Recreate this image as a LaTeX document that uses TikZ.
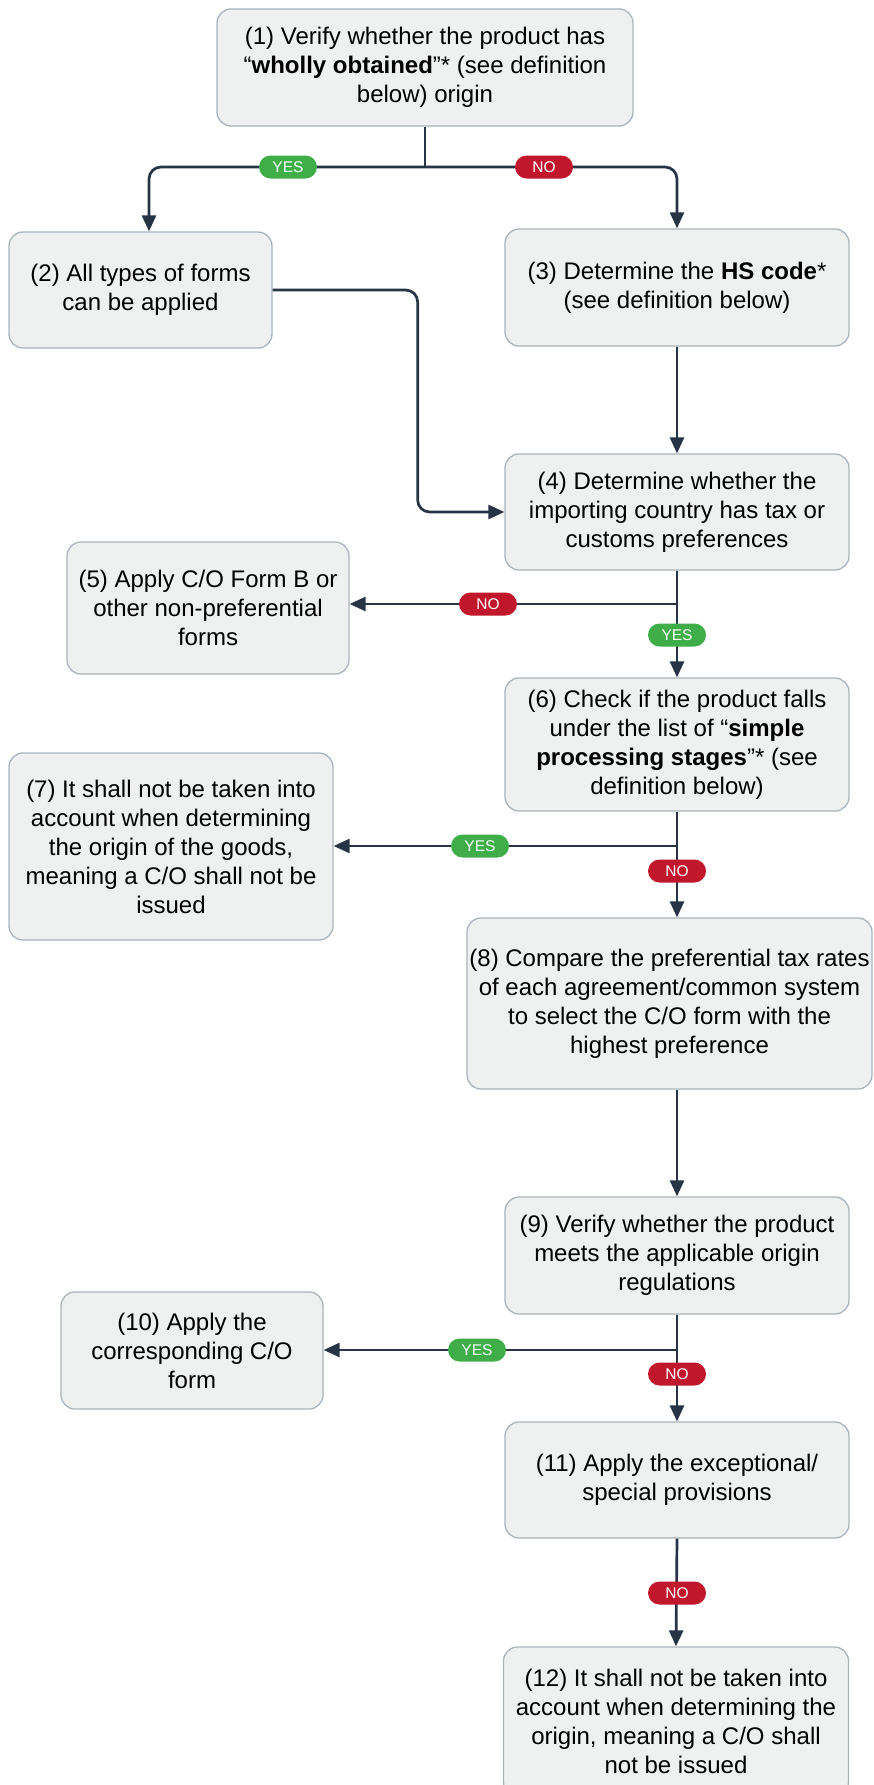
\documentclass[tikz,border=0pt]{standalone}
\usepackage{fontspec}
\setmainfont{Liberation Sans}
\usetikzlibrary{arrows.meta,calc}
\definecolor{boxfill}{HTML}{EFF1F0}
\definecolor{boxline}{HTML}{A9B4BD}
\definecolor{connc}{HTML}{263445}
\definecolor{yesgreen}{HTML}{3FAE49}
\definecolor{nored}{HTML}{C1172C}
\begin{document}
\begin{tikzpicture}[x=1pt,y=-1pt,
  stepbox/.style={draw=boxline, fill=boxfill, line width=1.3pt, rounded corners=14pt,
    align=center, inner sep=0pt, font=\fontsize{24}{29}\selectfont},
  line/.style={draw=connc, line width=2.7pt},
  arr/.style={line, -{Triangle[length=16pt,width=14pt]}},
  pill/.style={text=white, rounded corners=11.5pt, minimum width=58pt, minimum height=23pt,
    inner sep=0pt, font=\fontsize{15.5}{15.5}\selectfont},
  yes/.style={pill, fill=yesgreen},
  no/.style={pill, fill=nored}]
\clip (0,0) rectangle (873,1785);
\fill[white] (0,0) rectangle (873,1785);

\node[stepbox, minimum width=416pt, minimum height=117pt] (b1) at (425,67.5)
  {(1) Verify whether the product has\\“\textbf{wholly obtained}”* (see definition\\below) origin};
\node[stepbox, minimum width=263pt, minimum height=116pt] (b2) at (140.5,290)
  {(2) All types of forms\\can be applied};
\node[stepbox, minimum width=344pt, minimum height=117pt] (b3) at (677,287.5)
  {(3) Determine the \textbf{HS code}*\\(see definition below)};
\node[stepbox, minimum width=344pt, minimum height=116pt] (b4) at (677,512)
  {(4) Determine whether the\\importing country has tax or\\customs preferences};
\node[stepbox, minimum width=282pt, minimum height=132pt] (b5) at (208,608)
  {(5) Apply C/O Form B or\\other non-preferential\\forms};
\node[stepbox, minimum width=344pt, minimum height=133pt] (b6) at (677,744.5)
  {(6) Check if the product falls\\under the list of “\textbf{simple}\\\textbf{processing stages}”* (see\\definition below)};
\node[stepbox, minimum width=324pt, minimum height=187pt] (b7) at (171,846.5)
  {(7) It shall not be taken into\\account when determining\\the origin of the goods,\\meaning a C/O shall not be\\issued};
\node[stepbox, minimum width=405pt, minimum height=171pt] (b8) at (669.5,1003.5)
  {(8) Compare the preferential tax rates\\of each agreement/common system\\to select the C/O form with the\\highest preference};
\node[stepbox, minimum width=344pt, minimum height=117pt] (b9) at (677,1255.5)
  {(9) Verify whether the product\\meets the applicable origin\\regulations};
\node[stepbox, minimum width=262pt, minimum height=117pt] (b10) at (192,1350.5)
  {(10) Apply the\\corresponding C/O\\form};
\node[stepbox, minimum width=344pt, minimum height=116pt] (b11) at (677,1480)
  {(11) Apply the exceptional/\\special provisions};
\node[stepbox, minimum width=345pt, minimum height=149pt] (b12) at (676,1721.5)
  {(12) It shall not be taken into\\account when determining the\\origin, meaning a C/O shall\\not be issued};

% (1) -> (2), (3)
\coordinate (j1) at (425,167);
\draw[line] (b1.south) -- (j1);
\draw[arr, rounded corners=12pt] (j1) -| ($(b2.north)+(8.5,0)$);
\draw[arr, rounded corners=12pt] (j1) -| (b3.north);
\node[yes] (l1) at (288,167) {YES};
\node[no] (l2) at (544,167) {NO};

% (2) -> (4)
\draw[arr, rounded corners=12pt] (b2.east) -- ++(145,0) |- (b4.west);
% (3) -> (4)
\draw[arr] (b3.south) -- (b4.north);

% (4) -> (5), (6)
\coordinate (j4) at (677,604);
\draw[arr] (b4.south) -- (b6.north);
\draw[arr] (j4) -- (j4 -| b5.east);
\node[no] (l3) at (488,604) {NO};
\node[yes] (l4) at (677,635) {YES};

% (6) -> (7), (8)
\coordinate (j6) at (677,846);
\draw[arr] (b6.south) -- (b6.south |- b8.north);
\draw[arr] (j6) -- (j6 -| b7.east);
\node[yes] (l5) at (480,846) {YES};
\node[no] (l6) at (677,871) {NO};

% (8) -> (9)
\draw[arr] (b8.south -| b9.north) -- (b9.north);

% (9) -> (10), (11)
\coordinate (j9) at (677,1350);
\draw[arr] (b9.south) -- (b11.north);
\draw[arr] (j9) -- (j9 -| b10.east);
\node[yes] (l7) at (477,1350) {YES};
\node[no] (l8) at (677,1374) {NO};

% (11) -> (12)
\draw[arr] (b11.south) -- (b12.north);
\node[no] (l9) at (677,1593) {NO};
\end{tikzpicture}
\end{document}
